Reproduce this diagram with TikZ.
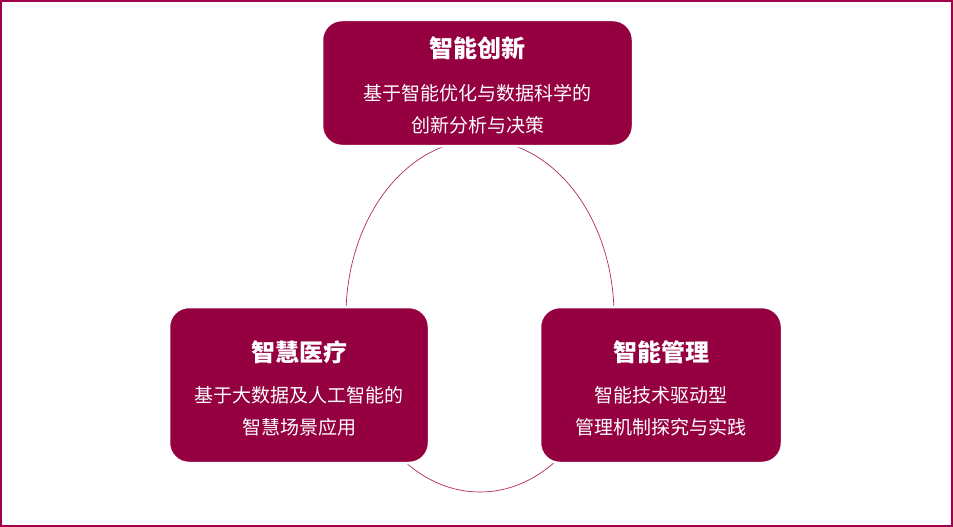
\documentclass[tikz,border=0pt]{standalone}
\usepackage{fontspec}
\newfontfamily\cjk{Noto Sans CJK SC}
\definecolor{boxred}{RGB}{149,0,64}
\definecolor{framered}{RGB}{160,0,74}
\definecolor{ringred}{RGB}{176,40,100}
\tikzset{
  card/.style={fill=boxred, draw=white, line width=2.5pt, rounded corners=20pt},
  ttl/.style={text=white, font=\cjk\bfseries\fontsize{24}{27}\selectfont, anchor=center, inner sep=0pt},
  sub/.style={text=white, font=\cjk\fontsize{19}{22}\selectfont, anchor=center, inner sep=0pt},
}
\begin{document}
\begin{tikzpicture}[x=1pt,y=-1pt]
\useasboundingbox (0,0) rectangle (953,527);
\draw[framered, line width=2pt] (1,1) rectangle (952,526);
% ring
\coordinate (ringc) at (480,316);
\draw[ringred, line width=0.7pt] (ringc) ellipse [x radius=134, y radius=176];
% cards
\draw[card] (322,20) rectangle (633,146);
\draw[card] (169,307) rectangle (429,463);
\draw[card] (540,307) rectangle (782,463);
% texts
\node[ttl] (t1) at (477.5,48) {智能创新};
\node[sub] (s1a) at (477.5,93) {基于智能优化与数据科学的};
\node[sub] (s1b) at (477.5,125) {创新分析与决策};
\node[ttl] (t2) at (299,352) {智慧医疗};
\node[sub] (s2a) at (299,395) {基于大数据及人工智能的};
\node[sub] (s2b) at (299,427) {智慧场景应用};
\node[ttl] (t3) at (661,352) {智能管理};
\node[sub] (s3a) at (661,395) {智能技术驱动型};
\node[sub] (s3b) at (661,427) {管理机制探究与实践};
\end{tikzpicture}
\end{document}
